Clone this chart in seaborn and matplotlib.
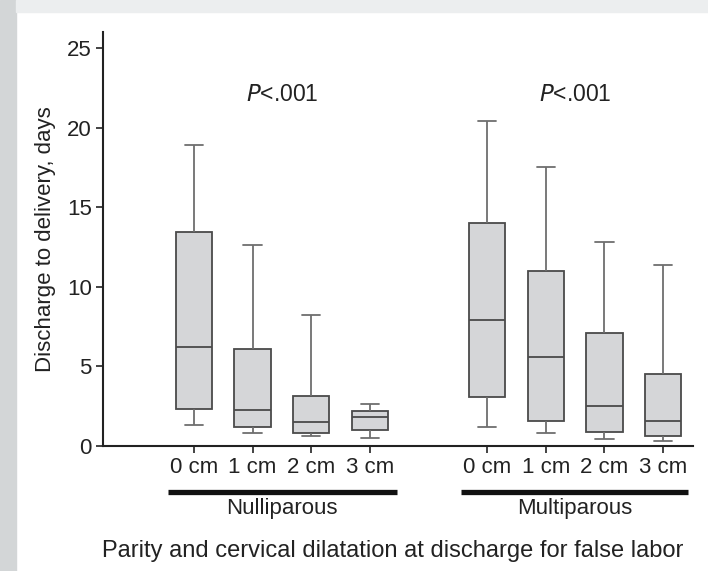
import numpy as np
import pandas as pd
import seaborn as sns
import matplotlib.pyplot as plt
from matplotlib.patches import Rectangle
import matplotlib.transforms as mtransforms

# valores (dias ate o parto)
grupos = ['Nulliparous'] * 4 + ['Multiparous'] * 4
dilatacao = ['0 cm', '1 cm', '2 cm', '3 cm'] * 2
posicoes = [0, 1, 2, 3, 5, 6, 7, 8]
minimo = [1.3, 0.8, 0.6, 0.5, 1.2, 0.8, 0.45, 0.3]
q1 = [2.35, 1.2, 0.8, 1.0, 3.1, 1.6, 0.85, 0.6]
mediana = [6.2, 2.25, 1.5, 1.8, 7.9, 5.6, 2.5, 1.55]
q3 = [13.45, 6.1, 3.15, 2.2, 14.0, 11.0, 7.1, 4.55]
maximo = [18.9, 12.6, 8.2, 2.65, 20.4, 17.55, 12.8, 11.35]

# cinco numeros por caixa -> quartis exatos
linhas = []
for i in range(len(posicoes)):
    for v in [minimo[i], q1[i], mediana[i], q3[i], maximo[i]]:
        linhas.append({'pos': posicoes[i], 'dias': v, 'grupo': grupos[i]})
df = pd.DataFrame(linhas)

sns.set_style('ticks')
plt.rcParams['font.family'] = ['Liberation Sans', 'DejaVu Sans']

fig = plt.figure(figsize=(7.08, 5.71), dpi=100)
# moldura cinza do print original
fig.patches.append(Rectangle((0, 0), 16/708, 1, transform=fig.transFigure, color='#d3d6d7', zorder=0))
fig.patches.append(Rectangle((16/708, 1 - 12/571), 1, 12/571, transform=fig.transFigure, color='#eceeef', zorder=0))

ax = fig.add_axes([103/708, 125/571, 590/708, 414/571])
sns.boxplot(data=df, x='pos', y='dias', native_scale=True, whis=np.inf, width=0.62,
            color='#d4d6d8', linecolor='#4a4a4a', linewidth=1.3,
            whiskerprops=dict(color='#6e6e6e'), capprops=dict(color='#6e6e6e'), ax=ax)

ax.set_xlim(-1.55, 8.51)
ax.set_ylim(0, 26)
ax.set_yticks([0, 5, 10, 15, 20, 25])
ax.set_xticks(posicoes)
ax.set_xticklabels(dilatacao)
ax.tick_params(labelsize=16, length=5, width=1.2, colors='#222222', pad=3)
sns.despine(ax=ax)
ax.spines['left'].set_linewidth(1.5)
ax.spines['bottom'].set_linewidth(1.5)
ax.spines['left'].set_color('#222222')
ax.spines['bottom'].set_color('#222222')

ax.set_xlabel('')
ax.set_ylabel('Discharge to delivery, days', fontsize=16, labelpad=8, color='#222222')

# valores de P
ax.text(1.5, 22.1, r'$\it{P}$<.001', ha='center', va='center', fontsize=16.5, color='#222222')
ax.text(6.5, 22.1, r'$\it{P}$<.001', ha='center', va='center', fontsize=16.5, color='#222222')

# barras dos grupos abaixo do eixo
trans = mtransforms.blended_transform_factory(ax.transData, ax.transAxes)
ax.plot([-0.45, 3.47], [-0.110, -0.110], transform=trans, color='#111111', lw=3.8, clip_on=False, solid_capstyle='butt')
ax.plot([4.55, 8.43], [-0.110, -0.110], transform=trans, color='#111111', lw=3.8, clip_on=False, solid_capstyle='butt')
ax.text(1.5, -0.150, 'Nulliparous', transform=trans, ha='center', va='center', fontsize=16, color='#222222')
ax.text(6.5, -0.150, 'Multiparous', transform=trans, ha='center', va='center', fontsize=16, color='#222222')

fig.text(393/708, 1 - 551/571, 'Parity and cervical dilatation at discharge for false labor',
         ha='center', va='center', fontsize=17, color='#222222')

plt.savefig('out.png', dpi=100)
